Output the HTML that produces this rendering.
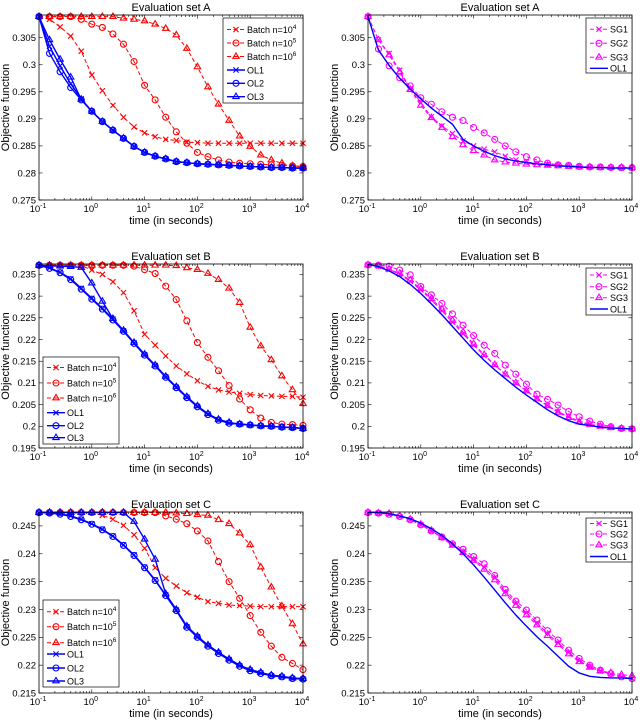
<!DOCTYPE html>
<html><head><meta charset="utf-8"><style>
html,body{margin:0;padding:0;background:#fff;}
svg{display:block;font-family:"Liberation Sans",Arial,sans-serif;}
</style></head><body>
<svg id="fig" width="640" height="722" viewBox="0 0 640 722" xmlns="http://www.w3.org/2000/svg"></svg>
<script>
const times=[0.1,0.158,0.251,0.398,0.631,1,1.585,2.512,3.981,6.31,10,15.85,25.12,39.81,63.1,100,158.5,251.2,398.1,631,1000,1585,2512,3981,6310,10000];
const xTickExps=[-1,0,1,2,3,4];
const yTicksA=[0.275,0.28,0.285,0.29,0.295,0.3,0.305];
const yTicksB=[0.195,0.2,0.205,0.21,0.215,0.22,0.225,0.23,0.235];
const yTicksC=[0.215,0.22,0.225,0.23,0.235,0.24,0.245];
// Set A left
const aB4=[.3089,.3084,.3070,.3053,.3025,.2981,.2952,.2925,.2903,.2885,.2874,.2867,.2862,.2860,.2857,.2856,.2855,.2855,.2855,.2855,.2855,.2855,.2855,.2855,.2855,.2855];
const aB5=[.3089,.3089,.3089,.3089,.3084,.3075,.3069,.3057,.3038,.3006,.2962,.2935,.2903,.2876,.2855,.2838,.2830,.2824,.2820,.2818,.2817,.2816,.2815,.2814,.2813,.2812];
const aB6=[.3089,.3089,.3089,.3089,.3089,.3089,.3089,.3089,.3086,.3084,.3081,.3075,.3067,.3055,.3030,.2996,.2959,.2927,.2897,.2868,.2849,.2833,.2824,.2818,.2813,.2812];
const aOL1=[.3089,.3034,.2998,.2965,.2937,.2914,.2895,.2879,.2864,.2849,.2838,.2831,.2826,.2821,.2819,.2817,.2816,.2815,.2814,.2813,.2812,.2811,.2810,.2810,.2809,.2809];
const aOL2=[.3089,.3021,.2987,.2958,.2935,.2914,.2895,.2879,.2864,.2849,.2838,.2831,.2826,.2821,.2819,.2817,.2816,.2815,.2814,.2813,.2812,.2811,.2810,.2810,.2809,.2809];
const aOL3=[.3089,.3046,.3010,.2977,.2936,.2914,.2895,.2879,.2864,.2849,.2838,.2831,.2826,.2821,.2819,.2817,.2816,.2815,.2814,.2813,.2812,.2811,.2810,.2810,.2809,.2809];
// Set A right
const aSG1=[.3089,.3046,.3021,.2990,.2956,.2929,.2904,.2887,.2873,.2859,.2850,.2844,.2839,.2831,.2824,.2820,.2818,.2816,.2814,.2813,.2812,.2811,.2810,.2810,.2809,.2809];
const aSG2=[.3089,.3029,.2998,.2976,.2961,.2939,.2927,.2913,.2903,.2897,.2884,.2874,.2862,.2850,.2839,.2830,.2824,.2818,.2815,.2814,.2812,.2811,.2811,.2810,.2810,.2810];
const aSG3=[.3089,.3046,.3018,.2987,.2954,.2925,.2902,.2884,.2867,.2852,.2841,.2833,.2824,.2820,.2818,.2816,.2815,.2814,.2813,.2812,.2811,.2811,.2810,.2810,.2810,.2810];
const aOLr=[.3089,.3027,.2999,.2975,.2955,.2937,.2920,.2905,.2890,.2862,.2850,.2840,.2832,.2826,.2822,.2819,.2817,.2815,.2813,.2812,.2811,.2810,.2810,.2809,.2809,.2809];
// Set B left
const bB4=[.2371,.2371,.2371,.2371,.2371,.2360,.2350,.2333,.2308,.2266,.2212,.2187,.2162,.2139,.2121,.2105,.2092,.2084,.2079,.2076,.2073,.2071,.2070,.2069,.2069,.2067];
const bB5=[.2371,.2371,.2371,.2371,.2371,.2371,.2371,.2371,.2371,.2369,.2361,.2352,.2323,.2292,.2243,.2193,.2159,.2128,.2094,.2063,.2038,.2019,.2009,.2005,.2004,.2002];
const bB6=[.2371,.2371,.2371,.2371,.2371,.2371,.2371,.2371,.2371,.2371,.2371,.2371,.2371,.2370,.2365,.2361,.2352,.2338,.2318,.2285,.2228,.2185,.2153,.2116,.2084,.2052];
const bOL1=[.2371,.2365,.2355,.2340,.2318,.2295,.2272,.2247,.2220,.2192,.2165,.2140,.2114,.2090,.2067,.2046,.2028,.2015,.2008,.2005,.2003,.2001,.2000,.1998,.1997,.1995];
const bOL2=[.2371,.2364,.2354,.2338,.2316,.2293,.2270,.2245,.2219,.2191,.2164,.2139,.2113,.2089,.2066,.2045,.2027,.2014,.2007,.2005,.2003,.2001,.2000,.1998,.1997,.1995];
const bOL3=[.2371,.2370,.2369,.2368,.2366,.2330,.2288,.2248,.2221,.2193,.2166,.2141,.2115,.2091,.2068,.2047,.2029,.2016,.2009,.2005,.2003,.2001,.2000,.1998,.1997,.1995];
// Set B right
const bSG1=[.2372,.2369,.2361,.2350,.2334,.2314,.2291,.2266,.2240,.2213,.2187,.2163,.2141,.2120,.2100,.2082,.2064,.2048,.2034,.2022,.2012,.2005,.2000,.1997,.1995,.1994];
const bSG2=[.2372,.2371,.2369,.2360,.2349,.2322,.2303,.2283,.2259,.2233,.2209,.2187,.2168,.2141,.2120,.2097,.2074,.2062,.2049,.2034,.2022,.2012,.2005,.1999,.1995,.1994];
const bSG3=[.2372,.2370,.2362,.2352,.2337,.2317,.2294,.2270,.2244,.2217,.2190,.2165,.2142,.2120,.2100,.2081,.2063,.2047,.2032,.2020,.2010,.2004,.2000,.1997,.1995,.1994];
const bOLr=[.2373,.2368,.2358,.2345,.2327,.2306,.2282,.2257,.2230,.2203,.2176,.2152,.2130,.2110,.2090,.2072,.2055,.2038,.2024,.2013,.2005,.2002,.1998,.1996,.1995,.1994];
// Set C left
const cB4=[.2474,.2474,.2474,.2474,.2474,.2474,.2469,.2462,.2451,.2434,.2410,.2375,.2356,.2342,.2330,.2322,.2314,.2311,.2308,.2307,.2306,.2305,.2305,.2305,.2305,.2305];
const cB5=[.2474,.2474,.2474,.2474,.2474,.2474,.2474,.2474,.2474,.2474,.2474,.2474,.2468,.2462,.2454,.2441,.2423,.2386,.2350,.2320,.2289,.2259,.2234,.2214,.2203,.2192];
const cB6=[.2474,.2474,.2474,.2474,.2474,.2474,.2474,.2474,.2474,.2474,.2474,.2474,.2474,.2473,.2472,.2470,.2469,.2461,.2454,.2437,.2416,.2376,.2340,.2306,.2274,.2238];
const cOL1=[.2474,.2474,.2472,.2468,.2462,.2454,.2444,.2432,.2416,.2398,.2376,.2353,.2326,.2299,.2269,.2251,.2235,.2222,.2210,.2199,.2191,.2186,.2181,.2179,.2176,.2175];
const cOL2=[.2474,.2473,.2471,.2467,.2461,.2453,.2443,.2431,.2415,.2397,.2375,.2352,.2325,.2298,.2268,.2250,.2234,.2221,.2209,.2198,.2190,.2185,.2181,.2179,.2176,.2175];
const cOL3=[.2474,.2474,.2474,.2474,.2474,.2474,.2474,.2474,.2474,.2458,.2426,.2390,.2328,.2300,.2270,.2252,.2236,.2223,.2211,.2200,.2192,.2187,.2182,.2180,.2177,.2176];
// Set C right
const cSG1=[.2474,.2473,.2471,.2467,.2461,.2452,.2441,.2429,.2416,.2404,.2390,.2376,.2357,.2332,.2311,.2294,.2276,.2257,.2240,.2223,.2208,.2197,.2189,.2184,.2179,.2176];
const cSG2=[.2474,.2473,.2471,.2467,.2461,.2452,.2441,.2430,.2418,.2408,.2395,.2382,.2361,.2336,.2315,.2299,.2281,.2262,.2245,.2227,.2212,.2200,.2191,.2185,.2179,.2176];
const cSG3=[.2474,.2473,.2472,.2468,.2462,.2453,.2442,.2429,.2415,.2402,.2388,.2372,.2353,.2328,.2307,.2290,.2272,.2253,.2237,.2220,.2206,.2196,.2190,.2186,.2183,.2181];
const cOLr=[.2474,.2474,.2472,.2468,.2463,.2455,.2445,.2433,.2418,.2400,.2380,.2358,.2335,.2312,.2290,.2270,.2251,.2234,.2216,.2198,.2186,.2180,.2178,.2177,.2177,.2176];

const NS="http://www.w3.org/2000/svg";
const svg=document.getElementById('fig');
function el(tag,attrs,parent){const e=document.createElementNS(NS,tag);for(const k in attrs)e.setAttribute(k,attrs[k]);(parent||svg).appendChild(e);return e;}
const RED='#ff0000',BLUE='#0000ff',MAG='#ff00ff';

function marker(g,type,x,y,color,s){
  if(type==='x'){el('path',{d:`M${x-s} ${y-s}L${x+s} ${y+s}M${x-s} ${y+s}L${x+s} ${y-s}`,stroke:color,'stroke-width':1.1,fill:'none'},g);}
  else if(type==='o'){el('circle',{cx:x,cy:y,r:s+0.4,stroke:color,'stroke-width':1.1,fill:'none'},g);}
  else if(type==='t'){el('path',{d:`M${x} ${y-s-1}L${x+s+0.6} ${y+s*0.7}L${x-s-0.6} ${y+s*0.7}Z`,stroke:color,'stroke-width':1.1,fill:'none'},g);}
}

function panel(p){
  const g=el('g',{});
  
  
  const lx=v=>p.x0+(Math.log10(v)+1)/5*(p.x1-p.x0);
  const ly=v=>p.y1-(v-p.ymin)/(p.ymax-p.ymin)*(p.y1-p.y0);
  el('rect',{x:p.x0,y:p.y0,width:p.x1-p.x0,height:p.y1-p.y0,fill:'#fff',stroke:'none'},g);
  // ticks
  const tg=el('g',{stroke:'#000','stroke-width':0.6},g);
  
  
  for(let d=-1;d<=4;d++){
    const X=lx(Math.pow(10,d));
    el('line',{x1:X,y1:p.y1,x2:X,y2:p.y1-3.5},tg);el('line',{x1:X,y1:p.y0,x2:X,y2:p.y0+3.5},tg);
    if(d<4)for(let m=2;m<=9;m++){const Xm=lx(m*Math.pow(10,d));el('line',{x1:Xm,y1:p.y1,x2:Xm,y2:p.y1-2},tg);el('line',{x1:Xm,y1:p.y0,x2:Xm,y2:p.y0+2},tg);}
  }
  xTickExps.forEach(e=>{
    const t=el('text',{x:lx(Math.pow(10,e))-1,y:p.y1+12,'font-size':9.5,'text-anchor':'middle',fill:'#000'},g);
    
    
    t.appendChild(document.createTextNode('10'));
    const s=el('tspan',{dy:-4,'font-size':7},t);s.textContent=String(e);
  });
  p.yticks.forEach(v=>{
    const Y=ly(v);
    el('line',{x1:p.x0,y1:Y,x2:p.x0+3.5,y2:Y},tg);el('line',{x1:p.x1,y1:Y,x2:p.x1-3.5,y2:Y},tg);
    const t=el('text',{x:p.x0-3,y:Y+3.3,'font-size':9.5,'text-anchor':'end',fill:'#000'},g);
    
    
    t.textContent=String(parseFloat(v.toFixed(3)));
  });
  // series
  const clipId='c'+p.name;
  const cp=el('clipPath',{id:clipId},g);el('rect',{x:p.x0-4,y:p.y0-4,width:p.x1-p.x0+8,height:p.y1-p.y0+8},cp);
  const sg=el('g',{'clip-path':`url(#${clipId})`},g);
  p.series.forEach(s=>{
    const sgrp=el('g',{},sg);
    
    
    const pts=s.data.map((v,i)=>lx(times[i]).toFixed(2)+','+ly(v).toFixed(2)).join(' ');
    el('polyline',{points:pts,fill:'none',stroke:s.color,'stroke-width':s.lw||1,'stroke-dasharray':s.dash||'none'},sgrp);
    if(s.mk)s.data.forEach((v,i)=>marker(sgrp,s.mk,lx(times[i]),ly(v),s.color,2.6));
  });
  el('rect',{x:p.x0,y:p.y0,width:p.x1-p.x0,height:p.y1-p.y0,fill:'none',stroke:'#000','stroke-width':0.8},g);
  // title & labels
  const ti=el('text',{x:(p.x0+p.x1)/2,y:p.y0-4,'font-size':11,'text-anchor':'middle',fill:'#000'},g);
  
  
  ti.textContent=p.title;
  const xl=el('text',{x:(p.x0+p.x1)/2,y:p.y1+24,'font-size':11,'text-anchor':'middle',fill:'#000'},g);
  
  
  xl.textContent='time (in seconds)';
  const yl=el('text',{x:0,y:0,'font-size':11,'text-anchor':'middle',fill:'#000',transform:`translate(${p.x0-30},${(p.y0+p.y1)/2}) rotate(-90)`},g);
  
  
  yl.textContent='Objective function';
  // legend
  const L=p.legend;
  const lg=el('g',{},g);
  
  
  el('rect',{x:L.x,y:L.y,width:L.w,height:L.h,fill:'#fff',stroke:'#000','stroke-width':0.7},lg);
  p.series.forEach((s,i)=>{
    const ey=L.ys[i];
    const eg=el('g',{},lg);
    
    
    el('line',{x1:L.x+4,y1:ey,x2:L.x+22,y2:ey,stroke:s.color,'stroke-width':s.lw||1,'stroke-dasharray':s.dash||'none'},eg);
    if(s.mk)marker(eg,s.mk,L.x+13,ey,s.color,2.6);
    const t=el('text',{x:L.x+24,y:ey+3.3,'font-size':9,fill:'#000'},eg);
    if(s.sup){t.appendChild(document.createTextNode(s.label));const sp=el('tspan',{dy:-4,'font-size':6.5},t);sp.textContent=s.sup;}
    else t.textContent=s.label;
  });
}
function batchSeries(b4,b5,b6,o1,o2,o3){
  return [
    {id:'batch-1e4',data:b4,color:RED,dash:'4,2.5',mk:'x',label:'Batch n=10',sup:'4'},
    {id:'batch-1e5',data:b5,color:RED,dash:'4,2.5',mk:'o',label:'Batch n=10',sup:'5'},
    {id:'batch-1e6',data:b6,color:RED,dash:'4,2.5',mk:'t',label:'Batch n=10',sup:'6'},
    {id:'ol1',data:o1,color:BLUE,lw:1.4,mk:'x',label:'OL1'},
    {id:'ol2',data:o2,color:BLUE,lw:1.4,mk:'o',label:'OL2'},
    {id:'ol3',data:o3,color:BLUE,lw:1.4,mk:'t',label:'OL3'}];
}
function sgSeries(s1,s2,s3,o){
  return [
    {id:'sg1',data:s1,color:MAG,dash:'4,2.5',mk:'x',label:'SG1'},
    {id:'sg2',data:s2,color:MAG,dash:'4,2.5',mk:'o',label:'SG2'},
    {id:'sg3',data:s3,color:MAG,dash:'4,2.5',mk:'t',label:'SG3'},
    {id:'ol1',data:o,color:BLUE,lw:1.4,label:'OL1'}];
}
const L0=39,L1=303,R0=368,R1=632;
panel({name:'panel-a-batch',title:'Evaluation set A',x0:L0,x1:L1,y0:15,y1:200,ymin:0.275,ymax:0.3092,yticks:yTicksA,
  series:batchSeries(aB4,aB5,aB6,aOL1,aOL2,aOL3),legend:{x:223,y:18,w:80,h:85,ys:[29.5,43,56.5,70,83.3,96.7]}});
panel({name:'panel-a-sg',title:'Evaluation set A',x0:R0,x1:R1,y0:15,y1:200,ymin:0.275,ymax:0.3092,yticks:yTicksA,
  series:sgSeries(aSG1,aSG2,aSG3,aOLr),legend:{x:586,y:18,w:46,h:55,ys:[29.3,43.3,57.3,68.3]}});
panel({name:'panel-b-batch',title:'Evaluation set B',x0:L0,x1:L1,y0:264,y1:448,ymin:0.195,ymax:0.2374,yticks:yTicksB,
  series:batchSeries(bB4,bB5,bB6,bOL1,bOL2,bOL3),legend:{x:43,y:357,w:76,h:87,ys:[367.5,383,398,412.7,425.7,437.7]}});
panel({name:'panel-b-sg',title:'Evaluation set B',x0:R0,x1:R1,y0:264,y1:448,ymin:0.195,ymax:0.2374,yticks:yTicksB,
  series:sgSeries(bSG1,bSG2,bSG3,bOLr),legend:{x:586,y:268,w:46,h:47,ys:[275,286.7,297.7,309]}});
panel({name:'panel-c-batch',title:'Evaluation set C',x0:L0,x1:L1,y0:512,y1:693,ymin:0.215,ymax:0.2475,yticks:yTicksC,
  series:batchSeries(cB4,cB5,cB6,cOL1,cOL2,cOL3),legend:{x:43,y:600,w:76,h:87,ys:[611.7,626.7,642.7,654,668,681]}});
panel({name:'panel-c-sg',title:'Evaluation set C',x0:R0,x1:R1,y0:512,y1:693,ymin:0.215,ymax:0.2475,yticks:yTicksC,
  series:sgSeries(cSG1,cSG2,cSG3,cOLr),legend:{x:586,y:518,w:46,h:44,ys:[523.5,534,545,556.5]}});
</script>
</body></html>
